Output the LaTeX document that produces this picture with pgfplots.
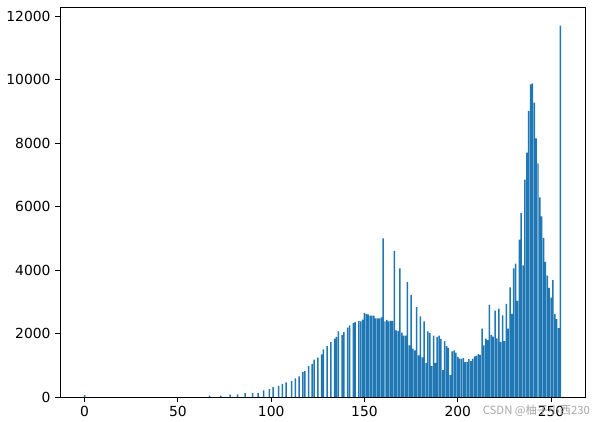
\documentclass[border=0pt]{standalone}
\usepackage{pgfplots}
\pgfplotsset{compat=1.18}
\usepackage{pgfplotstable}
\usepackage{fontspec}
\setmainfont{DejaVu Sans}
\newfontfamily\cjk{Noto Sans CJK SC}
\definecolor{mplblue}{RGB}{31,119,180}
\pgfplotstableread{
x y
0 60
67 45
73 40
78 75
82 80
86 125
90 125
93 120
96 210
99 250
101 310
104 350
106 410
108 460
111 510
113 585
115 650
117 790
118 815
120 970
122 1040
123 1180
125 1240
127 1340
128 1500
130 1600
132 1730
134 1840
135 1890
136 2070
138 1960
139 2045
141 2185
142 2255
144 2330
145 2360
147 2390
148 2380
149 2440
150 2650
151 2620
152 2600
153 2560
154 2560
155 2560
156 2480
157 2480
158 2480
159 2510
160 5000
161 2380
162 2430
163 2380
164 2400
165 2400
166 4600
167 2100
168 2080
169 4050
170 2030
171 1930
172 1930
173 3630
174 1630
175 3220
176 1520
177 1470
178 2830
179 1315
180 2540
181 1250
182 2380
183 1075
184 2070
185 2015
186 970
187 1930
188 1075
189 1890
190 1930
191 1830
192 850
193 1760
194 1600
195 1550
196 690
197 1440
198 1470
199 1400
200 1260
201 1210
202 1200
203 1230
204 1100
205 1100
206 1190
207 1130
208 1200
209 1280
210 1300
211 1350
212 1330
213 2150
214 1630
215 1840
216 1790
217 2900
218 1960
219 1900
220 2720
221 1850
222 2780
223 1740
224 2570
225 1760
226 2930
227 2150
228 3450
229 2620
230 4050
231 4200
232 3030
233 4960
234 5800
235 4150
236 6850
237 7700
238 9010
239 9850
240 9880
241 9270
242 8150
243 7360
244 6290
245 5690
246 5010
247 4260
248 3820
249 3440
250 3130
251 3680
252 2620
253 2450
254 2170
255 11700
}\histdata
\begin{document}
\begin{tikzpicture}
\begin{axis}[
  scale only axis,
  width=393.75pt, height=292.5pt,
  xmin=-13.19, xmax=268.19,
  ymin=0, ymax=12285,
  xtick={0,50,100,150,200,250},
  ytick={0,2000,4000,6000,8000,10000,12000},
  scaled y ticks=false,
  scaled x ticks=false,
  /pgf/number format/1000 sep={},
  /pgf/number format/assume math mode=true,
  tick align=outside,
  tick pos=left,
  major tick length=3.6pt,
  tick style={black, line width=0.6pt},
  axis line style={black, line width=0.6pt},
  ticklabel style={font=\fontsize{10.4}{12}\selectfont},
  every axis plot/.append style={fill=mplblue, draw=none},
]
\addplot[ybar, bar width=0.8, bar shift=0pt, fill=mplblue, draw=none] table[x=x,y=y] {\histdata};
\end{axis}
\node[anchor=east, text=black!35, font=\cjk\fontsize{8.5}{10}\selectfont, inner sep=0pt]
  at ([xshift=3.9pt, yshift=-10pt]current axis.south east) {CSDN @柚子小西230};
\path[use as bounding box] ([xshift=-45pt,yshift=-18.75pt]current axis.south west) rectangle ([xshift=6.75pt,yshift=5.25pt]current axis.north east);
\end{tikzpicture}
\end{document}
